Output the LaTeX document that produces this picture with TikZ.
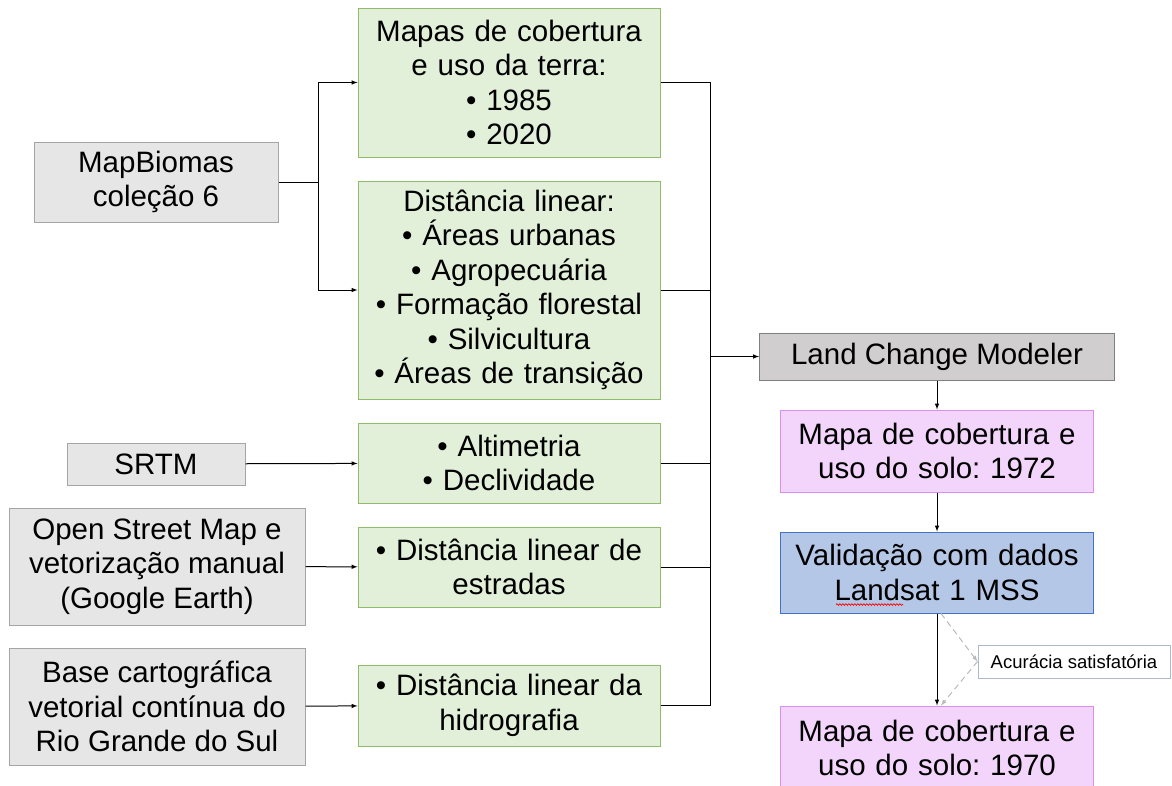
\documentclass[tikz,border=0pt]{standalone}
\usepackage{fontspec}
\setmainfont{Liberation Sans}
\usetikzlibrary{arrows,decorations.pathmorphing}
\frenchspacing
\definecolor{cinzafundo}{HTML}{E7E6E6}
\definecolor{cinzaborda}{HTML}{A5A5A5}
\definecolor{verdefundo}{HTML}{E2F0D9}
\definecolor{verdeborda}{HTML}{8FBC6B}
\definecolor{lcmfundo}{HTML}{D0CECE}
\definecolor{lcmborda}{HTML}{7F7F7F}
\definecolor{rosafundo}{HTML}{F3D5FC}
\definecolor{rosaborda}{HTML}{D98FEF}
\definecolor{azulfundo}{HTML}{B4C7E7}
\definecolor{azulborda}{HTML}{4472C4}
\definecolor{acurborda}{HTML}{ADB9CA}

\begin{document}
\begin{tikzpicture}[x=1pt,y=-1pt,
	font=\fontsize{29.5}{34.5}\selectfont,
	caixa/.style={draw, inner sep=0pt, align=center, line width=1pt},
	fonte/.style={caixa, fill=cinzafundo, draw=cinzaborda},
	dado/.style={caixa, fill=verdefundo, draw=verdeborda, minimum width=302, text width=296},
	mapa/.style={caixa, fill=rosafundo, draw=rosaborda, minimum width=313, text width=305},
	seta/.style={-latex, line width=1pt},
	linha/.style={line width=1pt},
	tracejada/.style={-latex, dash pattern=on 6pt off 4pt, gray!55, line width=1pt}]
	\useasboundingbox (0,0) rectangle (1172,785);
	% fontes de dados
	\node[fonte, minimum width=244, minimum height=80] (mapbiomas) at (156,182) {MapBiomas\\coleção 6};
	\node[fonte, minimum width=178, minimum height=42] (srtm) at (156,464) {SRTM};
	\node[fonte, minimum width=296, minimum height=117] (osm) at (157,566.5) {Open Street Map e\\vetorização manual\\(Google Earth)};
	\node[fonte, minimum width=296, minimum height=117] (base) at (157,706.5) {Base cartográfica\\vetorial contínua do\\Rio Grande do Sul};
	% variaveis
	\node[dado, minimum height=149] (mapas) at (509,82.5) {Mapas de cobertura\\e uso da terra:\\• 1985\\• 2020};
	\node[dado, minimum height=218] (distancia) at (509,290) {Distância linear:\\• Áreas urbanas\\• Agropecuária\\• Formação florestal\\• Silvicultura\\• Áreas de transição};
	\node[dado, minimum height=80] (relevo) at (509,463) {• Altimetria\\• Declividade};
	\node[dado, minimum height=80] (estradas) at (509,567) {• Distância linear de\\estradas};
	\node[dado, minimum height=81] (hidro) at (509,705.5) {• Distância linear da\\hidrografia};
	% modelagem
	\node[caixa, fill=lcmfundo, draw=lcmborda, minimum width=355, minimum height=47] (lcm) at (937,356.5) {Land Change Modeler};
	\node[mapa, minimum height=82] (mapa72) at (937,451) {Mapa de cobertura e\\uso do solo: 1972};
	\node[caixa, fill=azulfundo, draw=azulborda, minimum width=313, minimum height=81, text width=305] (valid) at (937,572.5) {Validação com dados\\Landsat 1 MSS};
	\node[caixa, fill=white, draw=acurborda, minimum width=192, minimum height=33, font=\fontsize{18.5}{22}\selectfont] (acur) at (1074,661.5) {Acurácia satisfatória};
	\node[mapa, minimum height=84] (mapa70) at (937,748) {Mapa de cobertura e\\uso do solo: 1970};
	\draw[red, line width=0.7pt, decorate, decoration={snake, amplitude=0.8, segment length=3}] ([xshift=-101,yshift=-32]valid.center) -- ++(67,0);
	% ligacoes
	\coordinate (ramo) at (318,182);
	\coordinate (barra) at (710,356.5);
	\draw[linha] (mapbiomas) -- (ramo);
	\draw[seta] (ramo) |- (mapas);
	\draw[seta] (ramo) |- (distancia);
	\draw[seta] (srtm) -- (relevo);
	\draw[seta] (osm) -- (estradas);
	\draw[seta] (base) -- (hidro);
	\draw[linha] (mapas.east) -| (barra);
	\draw[linha] (hidro.east) -| (barra);
	\draw[linha] (distancia.east) -- (distancia.east -| barra);
	\draw[linha] (relevo.east) -- (relevo.east -| barra);
	\draw[linha] (estradas.east) -- (estradas.east -| barra);
	\draw[seta] (barra) -- (lcm);
	\draw[seta] (lcm) -- (mapa72);
	\draw[seta] (mapa72) -- (valid);
	\draw[seta] (valid) -- (mapa70);
	\draw[tracejada] ([xshift=4]valid.south) -- (acur.west);
	\draw[tracejada] (acur.west) -- ([xshift=4]mapa70.north);
\end{tikzpicture}
\end{document}
